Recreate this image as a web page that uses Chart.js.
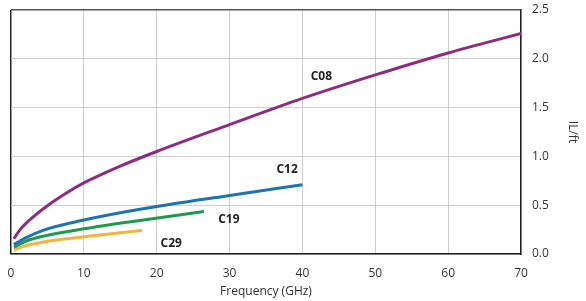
<!DOCTYPE html>
<html lang="en">
<head>
<meta charset="UTF-8">
<title>IL/ft vs frequency</title>
<script src="https://cdn.jsdelivr.net/npm/chart.js@4.4.0/dist/chart.umd.min.js"></script>
<style>
  body { margin: 0; background: #fff; }
  #wrap { width: 586px; height: 301px; }
</style>
</head>
<body>
<div id="wrap"><canvas id="myChart"></canvas></div>
<script>
// data
var cableNames = ["C08", "C12", "C19", "C29"];
var cableColors = ["#8e2c80", "#1b75b1", "#1f9a4c", "#f4b43c"];
var c08Freq = [0.4, 1.2, 2.5, 5, 7.5, 10, 15, 20, 30, 40, 50, 60, 70];
var c08Loss = [0.156, 0.245, 0.345, 0.495, 0.62, 0.728, 0.90, 1.05, 1.325, 1.594, 1.835, 2.06, 2.26];
var c12Freq = [0.4, 2, 4.5, 10, 17.7, 30, 40];
var c12Loss = [0.096, 0.165, 0.245, 0.348, 0.458, 0.60, 0.71];
var c19Freq = [0.4, 2, 4.5, 10, 17.7, 26.5];
var c19Loss = [0.07, 0.13, 0.183, 0.258, 0.344, 0.435];
var c29Freq = [0.4, 2, 4.5, 10, 18];
var c29Loss = [0.045, 0.085, 0.124, 0.176, 0.242];
// where each name sits, in data units
var labelFreq = [42.6, 37.9, 29.9, 22.0];
var labelLoss = [1.82, 0.86, 0.35, 0.11];
var xTicks = [0, 10, 20, 30, 40, 50, 60, 70];
var yTicks = [0, 0.5, 1, 1.5, 2, 2.5];

var freqs = [c08Freq, c12Freq, c19Freq, c29Freq];
var losses = [c08Loss, c12Loss, c19Loss, c29Loss];

function toPoints(xs, ys) {
    var pts = [];
    for (var i = 0; i < xs.length; i++) pts.push({x: xs[i], y: ys[i]});
    return pts;
}

var datasets = [];
for (var k = 0; k < cableNames.length; k++) {
    datasets.push({
        label: cableNames[k],
        data: toPoints(freqs[k], losses[k]),
        borderColor: cableColors[k],
        borderWidth: 3,
        pointRadius: 0,
        fill: false,
        cubicInterpolationMode: 'monotone'
    });
}

// names drawn next to the curves
const curveNames = {
    id: 'curveNames',
    afterDatasetsDraw(chart) {
        const ctx = chart.ctx;
        ctx.save();
        ctx.font = 'bold 12px "Open Sans", sans-serif';
        ctx.fillStyle = '#222';
        ctx.textAlign = 'center';
        ctx.textBaseline = 'middle';
        for (let i = 0; i < cableNames.length; i++) {
            ctx.fillText(cableNames[i],
                chart.scales.x.getPixelForValue(labelFreq[i]),
                chart.scales.y.getPixelForValue(labelLoss[i]));
        }
        ctx.restore();
    }
};

Chart.defaults.font.family = '"Open Sans", sans-serif';
Chart.defaults.color = '#333';

new Chart(document.getElementById('myChart'), {
    type: 'line',
    data: { datasets: datasets },
    options: {
        responsive: true,
        maintainAspectRatio: false,
        animation: false,
        layout: { padding: { left: 11, top: 10, right: 0, bottom: 0 } },
        plugins: { legend: { display: false }, tooltip: { enabled: false } },
        scales: {
            x: {
                type: 'linear',
                min: 0, max: 70,
                afterBuildTicks: function(axis) { axis.ticks = xTicks.map(v => ({value: v})); },
                afterFit: function(axis) { axis.height = 47; axis.paddingLeft = 0; axis.paddingRight = 0; },
                ticks: { font: { size: 12 }, padding: 12, maxRotation: 0 },
                grid: {
                    color: ctx => ctx.tick && ctx.tick.value === 0 ? '#222' : '#cfcfcf',
                    lineWidth: ctx => ctx.tick && ctx.tick.value === 0 ? 1.5 : 1,
                    drawTicks: false
                },
                border: { color: '#222', width: 1.5 },
                title: { display: true, text: 'Frequency (GHz)', font: { size: 12 }, padding: { top: 6, bottom: 2 } }
            },
            y: {
                position: 'right',
                min: 0, max: 2.5,
                afterBuildTicks: function(axis) { axis.ticks = yTicks.map(v => ({value: v})); },
                afterFit: function(axis) { axis.width = 65; axis.paddingTop = 0; axis.paddingBottom = 0; },
                ticks: { font: { size: 12 }, padding: 11, callback: v => v.toFixed(1) },
                grid: {
                    color: ctx => ctx.tick && ctx.tick.value === 2.5 ? '#555' : '#cfcfcf',
                    lineWidth: ctx => ctx.tick && ctx.tick.value === 2.5 ? 1.5 : 1,
                    drawTicks: false
                },
                border: { color: '#222', width: 1.5 },
                title: { display: true, text: 'IL/ft', font: { size: 12 }, padding: { top: 6, bottom: 0 } }
            }
        }
    },
    plugins: [curveNames]
});
</script>
</body>
</html>
